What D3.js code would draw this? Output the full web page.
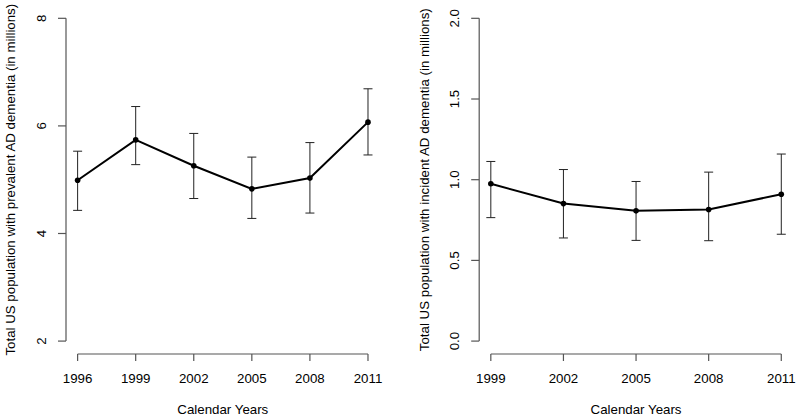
<!DOCTYPE html>
<html><head><meta charset="utf-8">
<script src="https://cdn.jsdelivr.net/npm/d3@7"></script>
<style>body{margin:0;background:#fff}svg{display:block}text{font-family:"Liberation Sans",Arial,sans-serif;font-size:13.3px;fill:#000}</style>
</head><body><svg id="c" width="800" height="419"></svg>
<script>
const prevYears = [1996, 1999, 2002, 2005, 2008, 2011];
const prevValues = [4.99, 5.74, 5.26, 4.83, 5.03, 6.07];
const prevUpper = [5.53, 6.36, 5.86, 5.42, 5.69, 6.69];
const prevLower = [4.43, 5.28, 4.65, 4.28, 4.38, 5.46];
const prevYTicks = [2, 4, 6, 8];

const incYears = [1999, 2002, 2005, 2008, 2011];
const incValues = [0.975, 0.852, 0.807, 0.815, 0.910];
const incUpper = [1.113, 1.063, 0.989, 1.047, 1.159];
const incLower = [0.765, 0.639, 0.624, 0.622, 0.662];
const incYTicks = [0.0, 0.5, 1.0, 1.5, 2.0];

const svg = d3.select("#c");

function panel(o) {
  const g = svg.append("g");
  const xr = o.years[o.years.length-1] - o.years[0];
  const yr = o.ydom[1] - o.ydom[0];
  const x = d3.scaleLinear().domain([o.years[0] - 0.04*xr, o.years[o.years.length-1] + 0.04*xr]).range([o.left, o.right]);
  const y = d3.scaleLinear().domain([o.ydom[0] - 0.04*yr, o.ydom[1] + 0.04*yr]).range([o.bottom, o.top]);
  const axCol = "#555";
  // y axis
  g.append("line").attr("x1", o.left).attr("x2", o.left).attr("y1", y(o.ydom[0])).attr("y2", y(o.ydom[1])).attr("stroke", axCol).attr("stroke-width", 1.2);
  o.yticks.forEach(t => {
    g.append("line").attr("x1", o.left - 8).attr("x2", o.left).attr("y1", y(t)).attr("y2", y(t)).attr("stroke", axCol).attr("stroke-width", 1.2);
    g.append("text").attr("transform", `translate(${o.left - 20},${y(t)}) rotate(-90)`).attr("text-anchor", "middle").text(o.fmt(t));
  });
  // x axis
  g.append("line").attr("x1", x(o.years[0])).attr("x2", x(o.years[o.years.length-1])).attr("y1", o.bottom).attr("y2", o.bottom).attr("stroke", axCol).attr("stroke-width", 1.2);
  o.years.forEach(t => {
    g.append("line").attr("x1", x(t)).attr("x2", x(t)).attr("y1", o.bottom).attr("y2", o.bottom + 7).attr("stroke", axCol).attr("stroke-width", 1.2);
    g.append("text").attr("x", x(t)).attr("y", 383).attr("text-anchor", "middle").text(t);
  });
  g.append("text").attr("x", (o.left + o.right)/2).attr("y", 414).attr("text-anchor", "middle").text("Calendar Years");
  g.append("text").attr("transform", `translate(${o.ylabX},${(o.top + o.bottom)/2}) rotate(-90)`).attr("text-anchor", "middle").text(o.ylab);
  // error bars
  o.years.forEach((yy, i) => {
    const cx = x(yy);
    g.append("line").attr("x1", cx).attr("x2", cx).attr("y1", y(o.lower[i])).attr("y2", y(o.upper[i])).attr("stroke", "#222").attr("stroke-width", 1);
    [o.lower[i], o.upper[i]].forEach(v => {
      g.append("line").attr("x1", cx - 4.5).attr("x2", cx + 4.5).attr("y1", y(v)).attr("y2", y(v)).attr("stroke", "#222").attr("stroke-width", 1);
    });
  });
  const line = d3.line().x((d, i) => x(o.years[i])).y(d => y(d));
  g.append("path").attr("d", line(o.values)).attr("fill", "none").attr("stroke", "#000").attr("stroke-width", 2);
  g.selectAll("circle.p").data(o.values).enter().append("circle").attr("cx", (d, i) => x(o.years[i])).attr("cy", d => y(d)).attr("r", 2.8).attr("fill", "#000");
}

panel({years: prevYears, values: prevValues, upper: prevUpper, lower: prevLower, yticks: prevYTicks,
  ydom: [2, 8], left: 66, right: 379.6, top: 5.4, bottom: 354, ylabX: 14.7,
  fmt: d => String(d), ylab: "Total US population with prevalent AD dementia (in millions)"});
panel({years: incYears, values: incValues, upper: incUpper, lower: incLower, yticks: incYTicks,
  ydom: [0, 2], left: 479.2, right: 792.9, top: 5.4, bottom: 354, ylabX: 428.5,
  fmt: d3.format(".1f"), ylab: "Total US population with incident AD dementia (in millions)"});
</script></body></html>
